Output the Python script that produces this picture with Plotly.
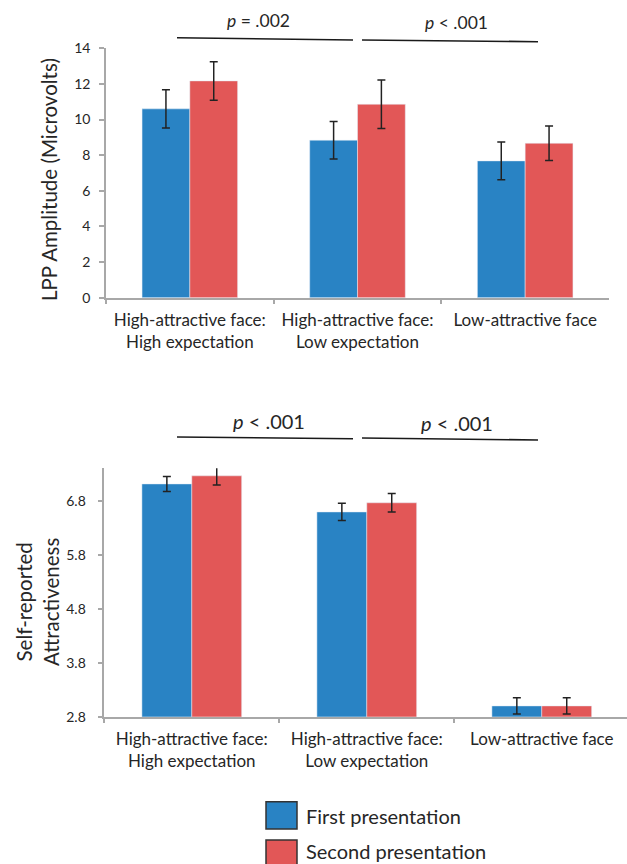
import plotly.graph_objects as go

# ---------------- data ----------------
categories = ["High-attractive face:<br>High expectation",
              "High-attractive face:<br>Low expectation",
              "Low-attractive face"]
series_names = ["First presentation", "Second presentation"]

lpp_first = [10.6, 8.84, 7.68]
lpp_first_err = [1.08, 1.05, 1.06]
lpp_second = [12.17, 10.86, 8.67]
lpp_second_err = [1.08, 1.36, 0.97]

attr_first = [7.12, 6.60, 3.00]
attr_first_err = [0.14, 0.16, 0.15]
attr_second = [7.27, 6.77, 3.00]
attr_second_err = [0.17, 0.17, 0.15]

lpp_ticks = [0, 2, 4, 6, 8, 10, 12, 14]
attr_ticks = [2.8, 3.8, 4.8, 5.8, 6.8]
attr_ticktext = ["2.8", "3.8", "4.8", "5.8", "6.8"]

p_top = ["<i>p</i> = .002", "<i>p</i> < .001"]
p_bottom = ["<i>p</i> < .001", "<i>p</i> < .001"]

# ---------------- style ----------------
W, H = 627, 864
BLUE = "rgb(41,131,196)"
RED = "rgb(226,87,87)"
TXT = "#262626"
AX = "#a8a8a8"
FONT = "Lato"


def px(x):
    return x / W


def py(y):
    return 1 - y / H


fig = go.Figure()

err_style = dict(type="data", visible=True, color="#222222", thickness=1.5, width=4)

fig.add_trace(go.Bar(x=categories, y=lpp_first, name=series_names[0], marker_color=BLUE,
                     error_y=dict(array=lpp_first_err, **err_style),
                     xaxis="x", yaxis="y", showlegend=False))
fig.add_trace(go.Bar(x=categories, y=lpp_second, name=series_names[1], marker_color=RED,
                     error_y=dict(array=lpp_second_err, **err_style),
                     xaxis="x", yaxis="y", showlegend=False))
fig.add_trace(go.Bar(x=categories, y=attr_first, name=series_names[0], marker_color=BLUE,
                     error_y=dict(array=attr_first_err, **err_style),
                     xaxis="x2", yaxis="y2", showlegend=False))
fig.add_trace(go.Bar(x=categories, y=attr_second, name=series_names[1], marker_color=RED,
                     error_y=dict(array=attr_second_err, **err_style),
                     xaxis="x2", yaxis="y2", showlegend=False))

xcommon = dict(type="category", showline=True, linecolor=AX, linewidth=1.5,
               ticks="outside", tickson="boundaries", ticklen=5, tickcolor=AX,
               tickwidth=1.5, showgrid=False, zeroline=False, automargin=False,
               tickfont=dict(family=FONT, size=17, color=TXT), ticklabelstandoff=6)
ycommon = dict(showline=True, linecolor=AX, linewidth=1.5, ticks="outside",
               ticklen=5, tickcolor=AX, tickwidth=1.5, showgrid=False, zeroline=False,
               automargin=False)

fig.update_layout(
    width=W, height=H,
    margin=dict(l=0, r=0, t=0, b=0, autoexpand=False),
    paper_bgcolor="white", plot_bgcolor="white",
    barmode="group", bargap=0.43, bargroupgap=0,
    xaxis=dict(domain=[px(106), px(609)], range=[-0.5, 2.5], anchor="y", **xcommon),
    yaxis=dict(domain=[py(297.7), py(48.3)], range=[0, 14], tickvals=lpp_ticks,
               anchor="x", ticklabelstandoff=6,
               tickfont=dict(family=FONT, size=14, color=TXT), **ycommon),
    xaxis2=dict(domain=[px(104.3), 1.0], range=[-0.5, 2.487], anchor="y2", **xcommon),
    yaxis2=dict(domain=[py(716.7), py(468.3)], range=[2.8, 7.41], tickvals=attr_ticks,
                ticktext=attr_ticktext, anchor="x2", ticklabelstandoff=9,
                tickfont=dict(family=FONT, size=14, color=TXT), **ycommon),
    font=dict(family=FONT, color=TXT),
)

ann = []
# y-axis titles
ann.append(dict(text="LPP Amplitude (Microvolts)", x=px(49), y=py(180), xref="paper", yref="paper",
                textangle=-90, showarrow=False, xanchor="center", yanchor="middle",
                font=dict(family=FONT, size=20.5, color=TXT)))
ann.append(dict(text="Self-reported<br>Attractiveness", x=px(37), y=py(602), xref="paper", yref="paper",
                textangle=-90, showarrow=False, xanchor="center", yanchor="middle",
                font=dict(family=FONT, size=20.5, color=TXT)))
# p-values
for txt, cx, cy, sz in [(p_top[0], 258, 20.5, 17.5), (p_top[1], 457, 23, 17.5),
                        (p_bottom[0], 269, 420.5, 20), (p_bottom[1], 456.5, 423, 20)]:
    ann.append(dict(text=txt, x=px(cx), y=py(cy), xref="paper", yref="paper", showarrow=False,
                    xanchor="center", yanchor="middle", font=dict(family=FONT, size=sz, color=TXT)))
# legend text
for txt, cy in [(series_names[0], 816), (series_names[1], 851)]:
    ann.append(dict(text=txt, x=px(304), y=py(cy), xref="paper", yref="paper", showarrow=False,
                    xanchor="left", yanchor="middle", font=dict(family=FONT, size=20, color=TXT)))

shapes = []
for (x0, y0, x1, y1) in [(177, 37.7, 353, 40), (362, 40, 538, 41.7),
                         (177, 437, 353, 438.7), (362, 438, 538, 440)]:
    shapes.append(dict(type="line", xref="paper", yref="paper", x0=px(x0), y0=py(y0),
                       x1=px(x1), y1=py(y1), line=dict(color="#1a1a1a", width=1.6)))
for (col, y0, y1) in [(BLUE, 801.7, 829), (RED, 840, 868)]:
    shapes.append(dict(type="rect", xref="paper", yref="paper", x0=px(266), x1=px(297),
                       y0=py(y0), y1=py(y1), fillcolor=col,
                       line=dict(color="#333333", width=1.5)))

fig.update_layout(annotations=ann, shapes=shapes)
fig.write_html("out.html")
